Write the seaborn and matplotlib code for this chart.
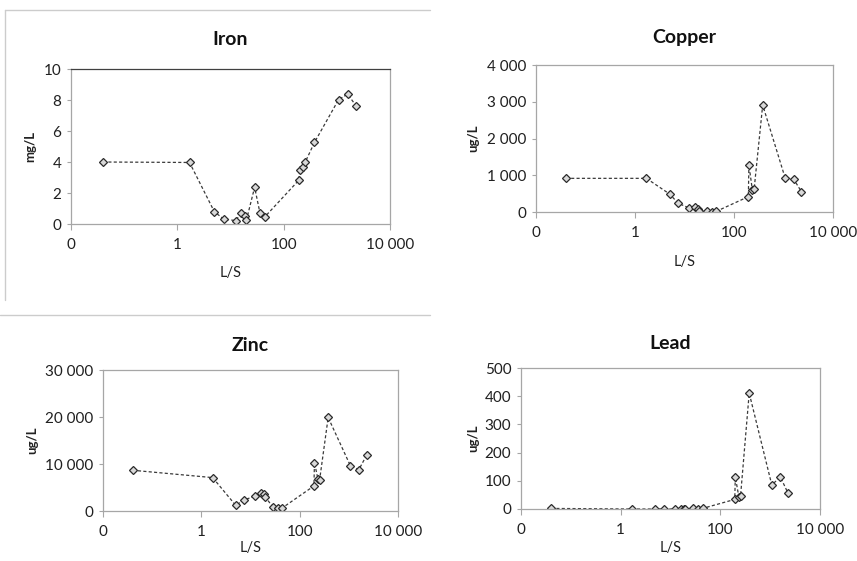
import numpy as np
import matplotlib
matplotlib.use('Agg')
import matplotlib.pyplot as plt
from matplotlib.lines import Line2D
from matplotlib.ticker import NullLocator
import seaborn as sns

# leaching test data
ls_ratio = [0.04, 1.7, 5, 7.5, 12.5, 16, 18.5, 20, 28.5, 36, 44,
            195, 200, 235, 255, 380, 1080, 1600, 2300]

iron = [4.0, 3.97, 0.78, 0.32, 0.22, 0.69, 0.5, 0.26, 2.37, 0.69, 0.45,
        2.84, 3.5, 3.7, 3.99, 5.26, 8.02, 8.38, 7.63]
copper = [916, 916, 490, 236, 109, 127, 82, 36, 27, 9, 18,
          417, 1288, 600, 620, 2911, 925, 898, 553]
zinc = [8673, 7109, 1209, 2417, 3128, 3839, 3700, 2986, 853, 640, 640,
        5332, 10308, 6825, 6683, 19905, 9597, 8815, 11872]
lead = [2, 0, 0, 0, 0, 0, 0, 0, 2, 1, 2,
        34, 114, 44, 47, 411, 85, 114, 55]

x_ticks = [0.01, 1, 100, 10000]
x_tick_labels = ['0', '1', '100', '10 000']

sns.set_theme(style='white')
plt.rcParams['font.family'] = ['Lato', 'DejaVu Sans']

fig = plt.figure(figsize=(8.57, 5.61), dpi=100)

panels = [
    # title, values, unit, yticks, ylabels, rect, title pad, xlabel y, ylabel x
    ('Iron', iron, 'mg/L', [0, 2, 4, 6, 8, 10], ['0', '2', '4', '6', '8', '10'],
     [0.0828, 0.6007, 0.3722, 0.2763], 17, -0.27, -0.11),
    ('Copper', copper, 'ug/L', [0, 1000, 2000, 3000, 4000],
     ['0', '1 000', '2 000', '3 000', '4 000'],
     [0.6254, 0.6221, 0.3466, 0.2620], 16, -0.29, -0.19),
    ('Zinc', zinc, 'ug/L', [0, 10000, 20000, 30000],
     ['0', '10 000', '20 000', '30 000'],
     [0.1202, 0.0891, 0.3442, 0.2513], 14, -0.21, -0.22),
    ('Lead', lead, 'ug/L', [0, 100, 200, 300, 400, 500],
     ['0', '100', '200', '300', '400', '500'],
     [0.6079, 0.0927, 0.3489, 0.2513], 14, -0.23, -0.14),
]

for title, values, unit, yt, ytl, rect, pad, xl_y, yl_x in panels:
    ax = fig.add_axes(rect)
    sns.lineplot(x=ls_ratio, y=values, ax=ax, sort=False, estimator=None,
                 color='#3a3a3a', linewidth=0.9, linestyle=(0, (2.5, 1.8)),
                 marker='D', markersize=4, markerfacecolor='#d8d8d8',
                 markeredgecolor='#2a2a2a', markeredgewidth=0.9)
    ax.set_xscale('log')
    ax.set_xlim(0.01, 10000)
    ax.set_ylim(yt[0], yt[-1])
    ax.set_xticks(x_ticks, x_tick_labels)
    ax.xaxis.set_minor_locator(NullLocator())
    ax.set_yticks(yt, ytl)
    ax.tick_params(axis='both', labelsize=11, colors='#202020')
    ax.tick_params(axis='x', direction='out', length=4, width=0.8,
                   color='#a6a6a6', bottom=True, pad=6)
    ax.tick_params(axis='y', direction='out', length=3, width=0.8,
                   color='#a6a6a6', left=True, pad=4)
    for side in ['left', 'right', 'top', 'bottom']:
        ax.spines[side].set_color('#a6a6a6')
        ax.spines[side].set_linewidth(0.9)
    if title == 'Iron':
        ax.spines['top'].set_color('#404040')
    ax.set_title(title, fontsize=14, fontweight='bold', pad=pad, color='#111111')
    ax.set_xlabel('L/S', fontsize=10.5, color='#222222')
    ax.xaxis.set_label_coords(0.5, xl_y)
    ax.set_ylabel(unit, fontsize=9.5, fontweight='bold', color='#222222')
    ax.yaxis.set_label_coords(yl_x, 0.5)

# chart borders left over from the source layout
fig.add_artist(Line2D([5 / 857, 430 / 857], [1 - 10 / 561, 1 - 10 / 561],
                      color='#cccccc', linewidth=1))
fig.add_artist(Line2D([5 / 857, 5 / 857], [1 - 10 / 561, 1 - 300 / 561],
                      color='#cccccc', linewidth=1))
fig.add_artist(Line2D([0, 430 / 857], [1 - 315 / 561, 1 - 315 / 561],
                      color='#cccccc', linewidth=1))

fig.savefig('out.png', dpi=100)
